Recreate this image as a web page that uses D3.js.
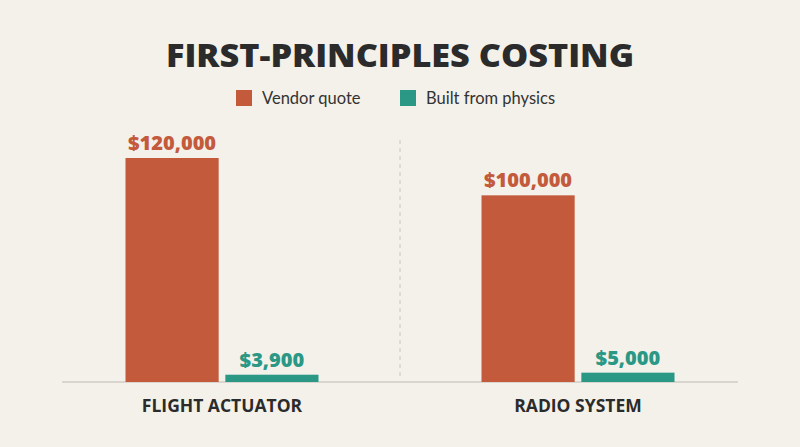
<!DOCTYPE html><html><head><script src="https://cdn.jsdelivr.net/npm/d3@7"></script>
<style>body{margin:0;background:#f3f1ea}</style></head><body><svg id="c" width="800" height="447"></svg><script>
const categories=["FLIGHT ACTUATOR","RADIO SYSTEM"];
const seriesNames=["Vendor quote","Built from physics"];
const vendor=[120000,100000];
const physics=[3900,5000];
const colors=["#c35a3c","#2a9885"];
const svg=d3.select("#c");
svg.append("rect").attr("width",800).attr("height",447).attr("fill","#f3f1ea");
const x=d3.scaleBand().domain(categories).range([44,756]);
const xs=d3.scaleBand().domain(seriesNames).range([-96.5,96.5]).paddingInner(0.067);
const y=d3.scaleLinear().domain([0,120000]).range([382,158]);
svg.append("text").attr("x",400).attr("y",67).attr("text-anchor","middle").attr("font-family","Open Sans, sans-serif").attr("font-weight",800).attr("font-size",31).attr("textLength",468).attr("lengthAdjust","spacingAndGlyphs").attr("fill","#2b2b2b").text("FIRST-PRINCIPLES COSTING");
const lg=[{x:236,n:0},{x:400,n:1}];
lg.forEach(l=>{svg.append("rect").attr("x",l.x).attr("y",90).attr("width",16).attr("height",16).attr("fill",colors[l.n]);
svg.append("text").attr("x",l.x+26).attr("y",104).attr("font-family","Lato, sans-serif").attr("font-size",16.5).attr("fill","#333").text(seriesNames[l.n]);});
svg.append("line").attr("x1",400).attr("x2",400).attr("y1",140).attr("y2",380).attr("stroke","#c8c6bf").attr("stroke-dasharray","4,4");
svg.append("line").attr("x1",62).attr("x2",738).attr("y1",382).attr("y2",382).attr("stroke","#bdbbb4");
const fmt=d3.format("$,");
[vendor,physics].forEach((vals,s)=>{categories.forEach((c,i)=>{
 const bx=x(c)+x.bandwidth()/2+xs(seriesNames[s]);
 svg.append("rect").attr("x",bx).attr("y",y(vals[i])).attr("width",xs.bandwidth()).attr("height",382-y(vals[i])).attr("fill",colors[s]);
 svg.append("text").attr("x",bx+xs.bandwidth()/2).attr("y",y(vals[i])-8).attr("text-anchor","middle").attr("font-family","Open Sans, sans-serif").attr("font-weight",800).attr("font-size",20).attr("fill",colors[s]).text(fmt(vals[i]));
});});
categories.forEach(c=>svg.append("text").attr("x",x(c)+x.bandwidth()/2).attr("y",412).attr("text-anchor","middle").attr("font-family","Open Sans, sans-serif").attr("font-weight",700).attr("font-size",17.5).attr("fill","#2b2b2b").text(c));
</script></body></html>
